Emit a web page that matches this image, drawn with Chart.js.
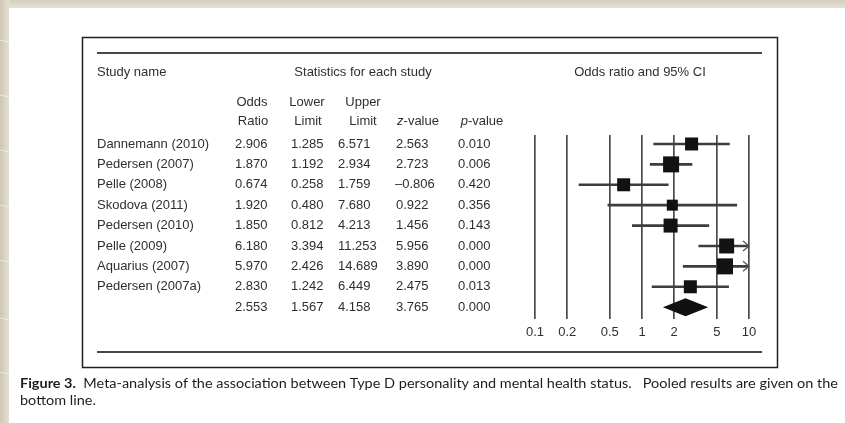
<!DOCTYPE html>
<html>
<head>
<meta charset="utf-8">
<script src="https://cdn.jsdelivr.net/npm/chart.js@4.4.1/dist/chart.umd.min.js"></script>
<style>
  html, body { margin: 0; padding: 0; background: #fff; overflow: hidden; }
  #wrap { position: relative; width: 845px; height: 423px; }
</style>
</head>
<body>
<div id="wrap"><canvas id="forest"></canvas></div>
<script>
// Study-level results
const studies    = ['Dannemann (2010)', 'Pedersen (2007)', 'Pelle (2008)', 'Skodova (2011)',
                    'Pedersen (2010)', 'Pelle (2009)', 'Aquarius (2007)', 'Pedersen (2007a)'];
const oddsRatio  = [2.906, 1.870, 0.674, 1.920, 1.850, 6.180, 5.970, 2.830];
const lowerLimit = [1.285, 1.192, 0.258, 0.480, 0.812, 3.394, 2.426, 1.242];
const upperLimit = [6.571, 2.934, 1.759, 7.680, 4.213, 11.253, 14.689, 6.449];
const zValue     = [2.563, 2.723, -0.806, 0.922, 1.456, 5.956, 3.890, 2.475];
const pValue     = [0.010, 0.006, 0.420, 0.356, 0.143, 0.000, 0.000, 0.013];

// Pooled estimate: odds ratio, lower, upper, z, p
const pooledRow  = [2.553, 1.567, 4.158, 3.765, 0.000];

// Axis ticks
const tickValues = [0.1, 0.2, 0.5, 1, 2, 5, 10];
const tickLabels = ['0.1', '0.2', '0.5', '1', '2', '5', '10'];

// Marker side length (px) for each study's square
const squareSide = [13, 16, 13, 11, 14, 15, 16, 13];

const TEXT = '#2f2f2f';
const FONT = '"Liberation Sans", Arial, Helvetica, sans-serif';
const colX = { or: 235, lo: 291, up: 338, z: 396, p: 458 };

const fmt = v => (v < 0 ? '\u2013' : '') + Math.abs(v).toFixed(3);

function line(ctx, x1, y1, x2, y2) {
  ctx.beginPath(); ctx.moveTo(x1, y1); ctx.lineTo(x2, y2); ctx.stroke();
}

// Draws "z-value"/"p-value" with an italic first letter, centred on cx
function italicHead(ctx, letter, rest, cx, cy) {
  ctx.font = 'italic 13px ' + FONT;
  const w1 = ctx.measureText(letter).width;
  ctx.font = '13px ' + FONT;
  const w2 = ctx.measureText(rest).width;
  const x0 = cx - (w1 + w2) / 2;
  ctx.textAlign = 'left';
  ctx.font = 'italic 13px ' + FONT;
  ctx.fillText(letter, x0, cy);
  ctx.font = '13px ' + FONT;
  ctx.fillText(rest, x0 + w1, cy);
}

const paperPlugin = {
  id: 'paper',
  beforeDraw(chart) {
    const ctx = chart.ctx;
    const W = chart.width, H = chart.height;
    ctx.save();
    ctx.fillStyle = '#ffffff';
    ctx.fillRect(0, 0, W, H);

    // wooden page edge along top and left
    const gTop = ctx.createLinearGradient(0, 0, 0, 8);
    gTop.addColorStop(0, '#d6cfbf'); gTop.addColorStop(1, '#e6e1d5');
    ctx.fillStyle = gTop; ctx.fillRect(0, 0, W, 8);
    const gLeft = ctx.createLinearGradient(0, 0, 9, 0);
    gLeft.addColorStop(0, '#cfc7b4'); gLeft.addColorStop(1, '#e4dfd2');
    ctx.fillStyle = gLeft; ctx.fillRect(0, 0, 9, H);
    ctx.strokeStyle = 'rgba(255,255,255,0.55)'; ctx.lineWidth = 1;
    [40, 95, 150, 205, 260, 318, 372].forEach(y => line(ctx, 0, y, 9, y + 2));

    // figure frame and rules
    ctx.strokeStyle = '#1f1f1f'; ctx.lineWidth = 1.5;
    ctx.strokeRect(82.5, 37.5, 695, 330);
    ctx.strokeStyle = '#474747'; ctx.lineWidth = 2;
    line(ctx, 97, 53, 762, 53);
    line(ctx, 97, 352, 762, 352);

    // headers
    ctx.fillStyle = TEXT;
    ctx.textBaseline = 'middle';
    ctx.font = '13px ' + FONT;
    ctx.textAlign = 'left';
    ctx.fillText('Study name', 97, 72);
    ctx.textAlign = 'center';
    ctx.fillText('Statistics for each study', 363, 72);
    ctx.fillText('Odds ratio and 95% CI', 640, 72);
    ctx.fillText('Odds', 252, 102);
    ctx.fillText('Lower', 307, 102);
    ctx.fillText('Upper', 363, 102);
    ctx.fillText('Ratio', 253, 121);
    ctx.fillText('Limit', 308, 121);
    ctx.fillText('Limit', 363, 121);
    italicHead(ctx, 'z', '-value', 418, 121);
    italicHead(ctx, 'p', '-value', 482, 121);

    // table rows, aligned with the plot rows
    const ys = chart.scales.y;
    ctx.font = '13px ' + FONT;
    ctx.textAlign = 'left';
    studies.forEach((name, i) => {
      const py = ys.getPixelForValue(i);
      ctx.fillText(name, 97, py);
      ctx.fillText(fmt(oddsRatio[i]), colX.or, py);
      ctx.fillText(fmt(lowerLimit[i]), colX.lo, py);
      ctx.fillText(fmt(upperLimit[i]), colX.up, py);
      ctx.fillText(fmt(zValue[i]), colX.z - (zValue[i] < 0 ? 1 : 0), py);
      ctx.fillText(fmt(pValue[i]), colX.p, py);
    });
    const pyP = ys.getPixelForValue(studies.length);
    [colX.or, colX.lo, colX.up, colX.z, colX.p].forEach((x, k) => {
      ctx.fillText(fmt(pooledRow[k]), x, pyP);
    });

    // caption
    const capFont = '"Lato", "Open Sans", sans-serif';
    const bold = 'Figure 3.';
    const rest = '  Meta-analysis of the association between Type D personality and mental health status.   Pooled results are given on the';
    ctx.font = 'bold 13.5px ' + capFont;
    const wb = ctx.measureText(bold).width;
    ctx.font = '13.5px ' + capFont;
    const wr = ctx.measureText(rest).width;
    const sx = (838 - 20) / (wb + wr);
    ctx.fillStyle = '#1d1d1d';
    ctx.save();
    ctx.translate(20, 0);
    ctx.scale(sx, 1);
    ctx.font = 'bold 13.5px ' + capFont;
    ctx.fillText(bold, 0, 384);
    ctx.font = '13.5px ' + capFont;
    ctx.fillText(rest, wb, 384);
    ctx.fillText('bottom line.', 0, 401);
    ctx.restore();

    ctx.restore();
  },
  afterDatasetsDraw(chart) {
    const ctx = chart.ctx;
    const xs = chart.scales.x, ys = chart.scales.y;
    ctx.save();
    // arrows where the interval runs past the axis
    ctx.strokeStyle = '#555'; ctx.lineWidth = 1.3;
    upperLimit.forEach((u, i) => {
      if (u > xs.max) {
        const tx = xs.getPixelForValue(xs.max), ty = ys.getPixelForValue(i);
        ctx.beginPath();
        ctx.moveTo(tx - 6, ty - 5); ctx.lineTo(tx, ty); ctx.lineTo(tx - 6, ty + 5);
        ctx.stroke();
      }
    });
    // pooled diamond
    const cy = ys.getPixelForValue(studies.length);
    const xl = xs.getPixelForValue(pooledRow[1]);
    const xm = xs.getPixelForValue(pooledRow[0]);
    const xr = xs.getPixelForValue(pooledRow[2]);
    ctx.fillStyle = '#111';
    ctx.beginPath();
    ctx.moveTo(xl, cy); ctx.lineTo(xm, cy - 9); ctx.lineTo(xr, cy); ctx.lineTo(xm, cy + 9);
    ctx.closePath(); ctx.fill();
    ctx.restore();
  }
};

new Chart(document.getElementById('forest'), {
  data: {
    datasets: [
      {
        type: 'bar',
        indexAxis: 'y',
        data: studies.map((s, i) => ({ x: [lowerLimit[i], upperLimit[i]], y: i })),
        backgroundColor: '#3d3d3d',
        barThickness: 2,
        borderWidth: 0,
        clip: 0,
        order: 2
      },
      {
        type: 'scatter',
        data: studies.map((s, i) => ({ x: oddsRatio[i], y: i })),
        pointStyle: 'rect',
        pointRadius: squareSide.map(s => s / Math.SQRT2),
        pointHoverRadius: squareSide.map(s => s / Math.SQRT2),
        backgroundColor: '#121212',
        borderWidth: 0,
        order: 1
      }
    ]
  },
  options: {
    responsive: true,
    maintainAspectRatio: false,
    animation: false,
    events: [],
    layout: { padding: { left: 535, right: 96, top: 135, bottom: 84 } },
    plugins: { legend: { display: false }, tooltip: { enabled: false } },
    scales: {
      x: {
        type: 'logarithmic',
        min: 0.1,
        max: 10,
        afterBuildTicks: s => { s.ticks = tickValues.map(v => ({ value: v })); },
        afterFit: s => { s.height = 20; },
        grid: { color: '#4a4a4a', lineWidth: 1.7, drawTicks: false },
        border: { display: false },
        ticks: {
          autoSkip: false,
          maxRotation: 0,
          padding: 6,
          color: TEXT,
          font: { family: FONT, size: 13 },
          callback: (v, i) => tickLabels[i]
        }
      },
      y: {
        type: 'linear',
        reverse: true,
        offset: false,
        bounds: 'data',
        min: -0.44,
        max: 8.58,
        grid: { offset: false },
        display: false
      }
    }
  },
  plugins: [paperPlugin]
});
</script>
</body>
</html>
